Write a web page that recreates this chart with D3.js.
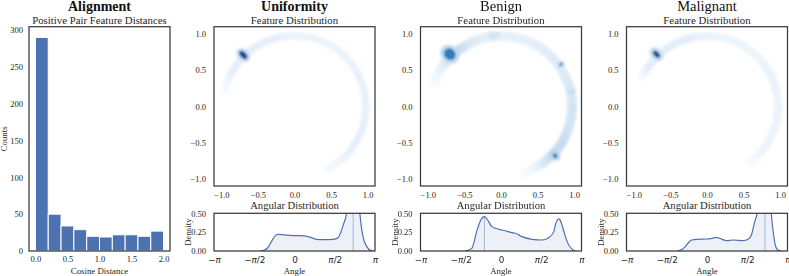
<!DOCTYPE html>
<html>
<head>
<meta charset="utf-8">
<script src="https://cdn.jsdelivr.net/npm/d3@7"></script>
<style>
  body { margin: 0; background: #fff; }
  svg { display: block; font-family: "Liberation Serif", "Times New Roman", serif; }
</style>
</head>
<body>
<div id="vis"></div>
<script>
const W = 789, H = 276;

// ---- data ----
const histEdges = [0, 0.2, 0.4, 0.6, 0.8, 1.0, 1.2, 1.4, 1.6, 1.8, 2.0];
const histCounts = [290, 50, 34, 29, 20, 19, 22, 22, 20, 27];
const histXTicks = [0, 0.5, 1, 1.5, 2];
const histYTicks = [0, 50, 100, 150, 200, 250, 300];

const mapTicks = [-1, -0.5, 0, 0.5, 1];
const angleTicks = [-Math.PI, -Math.PI / 2, 0, Math.PI / 2, Math.PI];
const angleTickLabels = ["−π", "−π/2", "0", "π/2", "π"];
const densityTicks = [0, 0.25, 0.5];

const panelTitles = ["Uniformity", "Benign", "Malignant"];

// angular KDE curves (angle in rad, density)
const uniAngles = [-1.36, -1.20, -1.05, -0.90, -0.76, -0.64, -0.40, -0.05, 0.20, 0.40, 0.60, 0.86, 1.12, 1.51, 1.71, 1.80, 1.90, 2.03, 2.10, 2.17, 2.29, 2.41, 2.48, 2.55, 2.62, 2.69, 2.82, 3.00, 3.08];
const uniDensity = [0, 0.008, 0.04, 0.124, 0.20, 0.221, 0.213, 0.204, 0.205, 0.20, 0.184, 0.155, 0.150, 0.155, 0.18, 0.24, 0.345, 0.5, 0.8, 1.25, 1.6, 1.25, 0.8, 0.5, 0.29, 0.168, 0.058, 0.004, 0];

const benAngles = [-1.40, -1.14, -0.95, -0.82, -0.647, -0.50, -0.36, -0.15, 0.03, 0.25, 0.42, 0.56, 0.82, 1.21, 1.60, 1.86, 2.06, 2.12, 2.19, 2.25, 2.31, 2.38, 2.48, 2.58, 2.78, 2.91];
const benDensity = [0, 0.035, 0.257, 0.389, 0.456, 0.40, 0.323, 0.295, 0.279, 0.26, 0.243, 0.235, 0.19, 0.155, 0.146, 0.177, 0.257, 0.345, 0.405, 0.425, 0.41, 0.345, 0.23, 0.124, 0.022, 0];

const malAngles = [-1.18, -0.98, -0.85, -0.70, -0.595, -0.40, -0.013, 0.20, 0.375, 0.504, 0.763, 1.021, 1.409, 1.603, 1.732, 1.80, 1.862, 1.952, 2.06, 2.16, 2.262, 2.36, 2.45, 2.508, 2.599, 2.68, 2.767, 2.896];
const malDensity = [0, 0.02, 0.058, 0.12, 0.146, 0.155, 0.159, 0.168, 0.181, 0.168, 0.137, 0.146, 0.137, 0.155, 0.212, 0.30, 0.389, 0.5, 0.9, 1.35, 1.6, 1.3, 0.8, 0.5, 0.212, 0.06, 0.013, 0];

// dense spots of the 2D feature map: x, y, radial spread, tangential spread, level
const uniSpots = [[-0.70, 0.71, 0.11, 0.08, 0.22], [-0.70, 0.71, 0.07, 0.04, 0.9]];
const benSpots = [
  [-0.70, 0.72, 0.14, 0.12, 0.26], [-0.70, 0.72, 0.085, 0.075, 0.7],
  [0.82, 0.58, 0.05, 0.035, 0.28], [0.82, 0.58, 0.022, 0.015, 0.88],
  [0.74, -0.68, 0.08, 0.06, 0.3], [0.74, -0.68, 0.03, 0.025, 0.8],
  [0.97, 0.20, 0.05, 0.035, 0.24], [0.99, -0.01, 0.035, 0.05, 0.22], [-0.10, 0.98, 0.05, 0.09, 0.18]
];
const malSpots = [[-0.69, 0.72, 0.11, 0.08, 0.22], [-0.69, 0.72, 0.06, 0.035, 0.88]];

const ringRadius = [0.975, 0.97, 0.97];
const ringHalfWidth = [0.05, 0.065, 0.055];
const ringGain = [0.4, 0.6, 0.4];
const ringCap = [0.1, 0.24, 0.1];

const panels = panelTitles.map((t, i) => ({
  title: t,
  angles: [uniAngles, benAngles, malAngles][i],
  density: [uniDensity, benDensity, malDensity][i],
  spots: [uniSpots, benSpots, malSpots][i],
  bold: i === 0
}));

// ---- layout ----
const mapTop = 26.7, mapBottom = 186;
const angTop = 213.3, angBottom = 251;
const panelLeft = [214, 420.5, 626.5];
const panelW = 161;
const spine = "#3a3a3a";
const txt = "#262626";
const blue = "#4c72b0";
const serif = "'Liberation Serif', 'Times New Roman', serif";

const svg = d3.select("#vis").append("svg").attr("width", W).attr("height", H);
const defs = svg.append("defs");
defs.append("filter").attr("id", "blurRing").attr("x", "-20%").attr("y", "-20%").attr("width", "140%").attr("height", "140%")
  .append("feGaussianBlur").attr("stdDeviation", 1.8);
defs.append("filter").attr("id", "blurSpot").attr("x", "-50%").attr("y", "-50%").attr("width", "200%").attr("height", "200%")
  .append("feGaussianBlur").attr("stdDeviation", 1.0);

function frame(g, x0, y0, x1, y1) {
  g.append("rect").attr("x", x0).attr("y", y0).attr("width", x1 - x0).attr("height", y1 - y0)
    .attr("fill", "none").attr("stroke", spine).attr("stroke-width", 1.25);
}

function styleAxis(g) {
  g.attr("font-family", null).attr("font-size", null);
  g.select(".domain").remove();
  g.selectAll("text").attr("fill", txt).style("font-size", "8.5px").style("font-family", serif);
}

// ---- Alignment histogram ----
function drawHistogram() {
  const g = svg.append("g");
  const x0 = 29, x1 = 170, y0 = 26.7, y1 = 251;
  const hx = d3.scaleLinear().domain([-0.1, 2.1]).range([x0, x1]);
  const hy = d3.scaleLinear().domain([0, 304.5]).range([y1, y0]);

  g.selectAll(".bar").data(histCounts).join("rect")
    .attr("class", "bar")
    .attr("x", (d, i) => hx(histEdges[i]))
    .attr("width", (d, i) => hx(histEdges[i + 1]) - hx(histEdges[i]))
    .attr("y", d => hy(d))
    .attr("height", d => hy(0) - hy(d))
    .attr("fill", blue).attr("stroke", "#fff").attr("stroke-width", 1);

  g.append("g").attr("transform", `translate(0,${y1})`)
    .call(d3.axisBottom(hx).tickValues(histXTicks).tickFormat(d3.format(".1f")).tickSize(0).tickPadding(5))
    .call(styleAxis);
  g.append("g").attr("transform", `translate(${x0},0)`)
    .call(d3.axisLeft(hy).tickValues(histYTicks).tickSize(0).tickPadding(6))
    .call(styleAxis);
  frame(g, x0, y0, x1, y1);

  g.append("text").attr("x", (x0 + x1) / 2).attr("y", 11).attr("text-anchor", "middle")
    .style("font-size", "14px").style("font-weight", "bold").attr("fill", "#111").text("Alignment");
  g.append("text").attr("x", (x0 + x1) / 2).attr("y", 23.5).attr("text-anchor", "middle")
    .style("font-size", "10.8px").attr("fill", txt).text("Positive Pair Feature Distances");
  g.append("text").attr("x", (x0 + x1) / 2).attr("y", 273.5).attr("text-anchor", "middle")
    .style("font-size", "8.8px").attr("fill", txt).text("Cosine Distance");
  g.append("text").attr("transform", `translate(6.5,${(y0 + y1) / 2}) rotate(-90)`).attr("text-anchor", "middle")
    .style("font-size", "8.8px").attr("fill", txt).text("Counts");
}

// ---- Feature map + angular KDE ----
function drawPanel(p, i) {
  const left = panelLeft[i], right = left + panelW;
  const g = svg.append("g");
  const x = d3.scaleLinear().domain([-1.1, 1.1]).range([left, right]);
  const y = d3.scaleLinear().domain([-1.1, 1.1]).range([mapBottom, mapTop]);
  const densAt = d3.scaleLinear().domain(p.angles).range(p.density).clamp(true);
  const blues = d3.interpolateBlues;

  defs.append("clipPath").attr("id", "clipMap" + i)
    .append("rect").attr("x", left).attr("y", mapTop).attr("width", panelW).attr("height", mapBottom - mapTop);
  defs.append("clipPath").attr("id", "clipAng" + i)
    .append("rect").attr("x", left).attr("y", angTop).attr("width", panelW).attr("height", angBottom - angTop);

  const mapG = g.append("g").attr("clip-path", `url(#clipMap${i})`);
  const ringG = mapG.append("g").attr("filter", "url(#blurRing)");
  const step = Math.PI / 180;
  const segs = d3.range(-Math.PI, Math.PI, step)
    .map(a => ({ a, t: Math.min(densAt(a) * ringGain[i], ringCap[i]) }))
    .filter(s => s.t > 0.008);
  const R = ringRadius[i], hw = ringHalfWidth[i];
  ringG.selectAll("path").data(segs).join("path")
    .attr("d", s => {
      const a0 = s.a - step * 0.2, a1 = s.a + step * 1.2;
      const pts = [[R - hw, a0], [R + hw, a0], [R + hw, a1], [R - hw, a1]]
        .map(([r, a]) => [x(r * Math.cos(a)), y(r * Math.sin(a))]);
      return "M" + pts.join("L") + "Z";
    })
    .attr("fill", s => blues(s.t));

  const spotG = mapG.append("g").attr("filter", "url(#blurSpot)");
  const pxPerUnit = x(1) - x(0);
  spotG.selectAll("ellipse").data(p.spots).join("ellipse")
    .attr("cx", d => x(d[0])).attr("cy", d => y(d[1]))
    .attr("rx", d => d[2] * pxPerUnit).attr("ry", d => d[3] * pxPerUnit)
    .attr("transform", d => `rotate(${-Math.atan2(d[1], d[0]) * 180 / Math.PI},${x(d[0])},${y(d[1])})`)
    .attr("fill", d => blues(d[4]));

  g.append("g").attr("transform", `translate(0,${mapBottom})`)
    .call(d3.axisBottom(x).tickValues(mapTicks).tickFormat(d3.format(".1f")).tickSize(0).tickPadding(6))
    .call(styleAxis);
  g.append("g").attr("transform", `translate(${left},0)`)
    .call(d3.axisLeft(y).tickValues(mapTicks).tickFormat(d3.format(".1f")).tickSize(0).tickPadding(8))
    .call(styleAxis);
  frame(g, left, mapTop, right, mapBottom);

  const cx = (left + right) / 2;
  g.append("text").attr("x", cx).attr("y", 11).attr("text-anchor", "middle")
    .style("font-size", p.bold ? "14px" : "14.5px").style("font-weight", p.bold ? "bold" : "normal")
    .attr("fill", "#111").text(p.title);
  g.append("text").attr("x", cx).attr("y", 23.5).attr("text-anchor", "middle")
    .style("font-size", "10.8px").attr("fill", txt).text("Feature Distribution");

  // angular distribution
  const ax = d3.scaleLinear().domain([-Math.PI, Math.PI]).range([left, right]);
  const ay = d3.scaleLinear().domain([0, 0.5]).range([angBottom, angTop]);
  const pts = p.angles.map((a, k) => [a, p.density[k]]);
  const angG = g.append("g").attr("clip-path", `url(#clipAng${i})`);
  angG.append("path").datum(pts)
    .attr("d", d3.area().x(d => ax(d[0])).y0(ay(0)).y1(d => ay(d[1])).curve(d3.curveMonotoneX))
    .attr("fill", blue).attr("fill-opacity", 0.1);
  const mi = d3.maxIndex(p.density);
  angG.append("line")
    .attr("x1", ax(p.angles[mi])).attr("x2", ax(p.angles[mi]))
    .attr("y1", ay(0)).attr("y2", ay(p.density[mi]))
    .attr("stroke", blue).attr("stroke-opacity", 0.45).attr("stroke-width", 1);
  angG.append("path").datum(pts)
    .attr("d", d3.line().x(d => ax(d[0])).y(d => ay(d[1])).curve(d3.curveMonotoneX))
    .attr("fill", "none").attr("stroke", blue).attr("stroke-width", 1.2);

  const xa = g.append("g").attr("transform", `translate(0,${angBottom})`)
    .call(d3.axisBottom(ax).tickValues(angleTicks).tickFormat((d, k) => angleTickLabels[k]).tickSize(0).tickPadding(5.5))
    .call(styleAxis);
  xa.selectAll("text").style("font-family", "'DejaVu Sans', sans-serif").style("font-size", "8.8px")
    .each(function () {
      const s = d3.select(this).text();
      const el = d3.select(this).text(null);
      s.split(/(π)/).filter(c => c.length).forEach(c => {
        el.append("tspan").style("font-style", c === "π" ? "italic" : "normal").text(c);
      });
    });
  g.append("g").attr("transform", `translate(${left},0)`)
    .call(d3.axisLeft(ay).tickValues(densityTicks).tickFormat(d3.format(".2f")).tickSize(0).tickPadding(8))
    .call(styleAxis);
  frame(g, left, angTop, right, angBottom);

  g.append("text").attr("x", cx).attr("y", 208.5).attr("text-anchor", "middle")
    .style("font-size", "10.6px").attr("fill", txt).text("Angular Distribution");
  g.append("text").attr("x", cx).attr("y", 273.5).attr("text-anchor", "middle")
    .style("font-size", "8.8px").attr("fill", txt).text("Angle");
  g.append("text").attr("transform", `translate(${left - 23},${(angTop + angBottom) / 2}) rotate(-90)`)
    .attr("text-anchor", "middle").style("font-size", "8.8px").attr("fill", txt).text("Density");
}

drawHistogram();
panels.forEach(drawPanel);
</script>
</body>
</html>
